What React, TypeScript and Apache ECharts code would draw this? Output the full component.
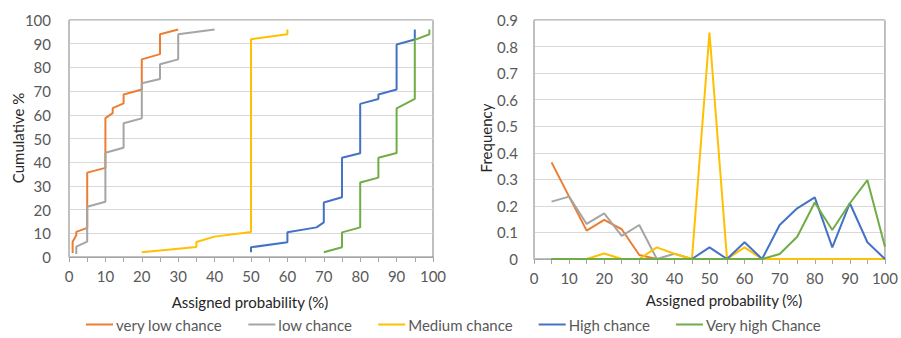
import React, { useEffect, useRef } from "react";
import * as echarts from "echarts";

const seriesNames = ["very low chance", "low chance", "Medium chance", "High chance", "Very high Chance"];
const seriesColors = ["#ED7D31", "#A5A5A5", "#FFC000", "#4472C4", "#70AD47"];

// Left chart: cumulative curves [assigned probability %, cumulative %]
const veryLowCum = [[1, 1.7], [1, 6.4], [2, 9.2], [2, 10.6], [5, 12.3], [5, 35.6], [10, 37.6], [10, 58.6], [12, 60.7], [12, 62.8], [15, 64.8], [15, 68.6], [20, 70.7], [20, 83.4], [25, 85.6], [25, 94], [30, 96]];
const lowCum = [[2, 1.3], [2, 4.4], [5, 6.5], [5, 21.2], [10, 23.3], [10, 44], [15, 46.1], [15, 56.4], [20, 58.5], [20, 73.3], [25, 75.1], [25, 81.3], [30, 83.4], [30, 94], [40, 96]];
const mediumCum = [[20, 2], [35, 4.2], [35, 6.3], [40, 8.6], [50, 10.5], [50, 91.9], [60, 94], [60, 96]];
const highCum = [[50, 2], [50, 4.1], [60, 6.2], [60, 10.4], [68, 12.5], [70, 14.6], [70, 23], [75, 25.2], [75, 41.9], [80, 43.8], [80, 64.6], [85, 66.7], [85, 68.6], [90, 70.7], [90, 89.7], [95, 91.8], [95, 96]];
const veryHighCum = [[70, 2], [75, 4.1], [75, 10.4], [80, 12.5], [80, 31.4], [85, 33.5], [85, 41.9], [90, 43.9], [90, 62.7], [95, 66.7], [95, 91.6], [99, 94], [99, 96]];

// Right chart: frequency per assigned probability bin
const probBins = [5, 10, 15, 20, 25, 30, 35, 40, 45, 50, 55, 60, 65, 70, 75, 80, 85, 90, 95, 100];
const veryLowFreq = [0.364, 0.235, 0.107, 0.147, 0.112, 0.015, 0, 0, 0, 0, 0, 0, 0, 0, 0, 0, 0, 0, 0, 0];
const lowFreq = [0.216, 0.235, 0.132, 0.172, 0.087, 0.128, 0, 0.02, 0, 0, 0, 0, 0, 0, 0, 0, 0, 0, 0, 0];
const mediumFreq = [0, 0, 0, 0.021, 0, 0, 0.044, 0.02, 0, 0.853, 0, 0.044, 0, 0, 0, 0, 0, 0, 0, 0];
const highFreq = [0, 0, 0, 0, 0, 0, 0, 0, 0, 0.044, 0, 0.063, 0, 0.128, 0.191, 0.232, 0.044, 0.21, 0.063, 0];
const veryHighFreq = [0, 0, 0, 0, 0, 0, 0, 0, 0, 0, 0, 0, 0, 0.019, 0.084, 0.213, 0.109, 0.21, 0.297, 0.046];

const cumData = [veryLowCum, lowCum, mediumCum, highCum, veryHighCum];
const freqData = [veryLowFreq, lowFreq, mediumFreq, highFreq, veryHighFreq];

const FONT = "Lato, 'Open Sans', sans-serif";
const TXT = "#595959";

export default function App() {
  const ref = useRef<HTMLDivElement>(null);
  useEffect(() => {
    if (!ref.current) return;
    const chart = echarts.init(ref.current, undefined, { renderer: "svg" });
    const xAxisBase = (gridIndex: number) => ({
      type: "value",
      gridIndex,
      min: 0,
      max: 100,
      interval: 5,
      axisLine: { show: true, lineStyle: { color: "#a6a6a6", width: 1 } },
      axisTick: { show: true, length: 5, lineStyle: { color: "#a6a6a6" } },
      axisLabel: {
        color: TXT,
        fontFamily: FONT,
        fontSize: 15,
        margin: 11,
        formatter: (v: number) => (v % 10 === 0 ? String(v) : ""),
      },
      splitLine: { show: false },
    });
    const series: any[] = [];
    cumData.forEach((d, i) => {
      series.push({
        type: "line",
        name: seriesNames[i],
        xAxisIndex: 0,
        yAxisIndex: 0,
        data: d,
        showSymbol: false,
        symbol: "none",
        lineStyle: { color: seriesColors[i], width: 2 },
        itemStyle: { color: seriesColors[i] },
      });
    });
    freqData.forEach((d, i) => {
      series.push({
        type: "line",
        name: seriesNames[i],
        xAxisIndex: 1,
        yAxisIndex: 1,
        data: d.map((v, j) => [probBins[j], v]),
        showSymbol: false,
        symbol: "none",
        lineStyle: { color: seriesColors[i], width: 2 },
        itemStyle: { color: seriesColors[i] },
      });
    });
    const option: any = {
      animation: false,
      backgroundColor: "#ffffff",
      textStyle: { fontFamily: FONT },
      grid: [
        { left: 69, right: 468, top: 20, bottom: 81, show: true, borderColor: "#808080", borderWidth: 1, backgroundColor: "transparent" },
        { left: 534, right: 13, top: 20, bottom: 79, show: true, borderColor: "#808080", borderWidth: 1, backgroundColor: "transparent" },
      ],
      xAxis: [xAxisBase(0), xAxisBase(1)],
      yAxis: [
        {
          type: "value",
          gridIndex: 0,
          min: 0,
          max: 100,
          interval: 10,
          axisLine: { show: true, lineStyle: { color: "#bfbfbf" } },
          axisTick: { show: false },
          axisLabel: { color: TXT, fontFamily: FONT, fontSize: 15, margin: 18 },
          splitLine: { show: true, lineStyle: { color: "#d9d9d9", width: 1 } },
        },
        {
          type: "value",
          gridIndex: 1,
          min: 0,
          max: 0.9,
          interval: 0.1,
          axisLine: { show: true, lineStyle: { color: "#bfbfbf" } },
          axisTick: { show: false },
          axisLabel: {
            color: TXT,
            fontFamily: FONT,
            fontSize: 15,
            margin: 16,
            formatter: (v: number) => String(Number(v.toFixed(1))),
          },
          splitLine: { show: true, lineStyle: { color: "#d9d9d9", width: 1 } },
        },
      ],
      legend: {
        data: seriesNames,
        left: 86,
        top: 317,
        padding: 0,
        icon: "rect",
        itemWidth: 27,
        itemHeight: 2,
        itemGap: 26,
        textStyle: { color: TXT, fontFamily: FONT, fontSize: 15, padding: [0, 0, 0, -2] },
      },
      graphic: [
        { type: "text", x: 250, y: 302, style: { text: "Assigned probability (%)", fill: "#262626", font: `15px ${FONT}`, align: "center", verticalAlign: "middle" } },
        { type: "text", x: 724, y: 300, style: { text: "Assigned probability (%)", fill: "#262626", font: `15px ${FONT}`, align: "center", verticalAlign: "middle" } },
        { type: "text", x: 18, y: 138, rotation: Math.PI / 2, style: { text: "Cumulative %", fill: "#262626", font: `15px ${FONT}`, align: "center", verticalAlign: "middle" } },
        { type: "text", x: 486, y: 138, rotation: Math.PI / 2, style: { text: "Frequency", fill: "#262626", font: `15px ${FONT}`, align: "center", verticalAlign: "middle" } },
      ],
      series,
    };
    chart.setOption(option);
    return () => chart.dispose();
  }, []);
  return <div ref={ref} style={{ width: 901, height: 338, position: "absolute", left: 0, top: 0 }} />;
}
